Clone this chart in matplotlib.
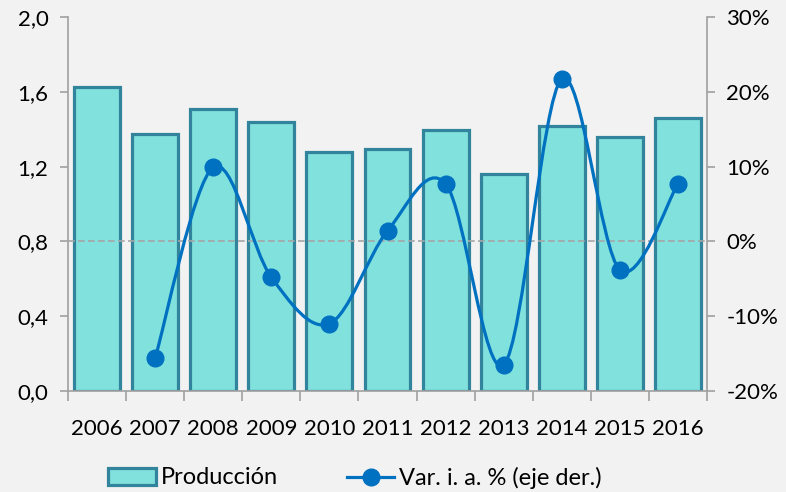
import matplotlib
matplotlib.use("Agg")
import matplotlib.pyplot as plt
from matplotlib.path import Path
from matplotlib.patches import PathPatch, Patch
from matplotlib.lines import Line2D
import numpy as np

years = ["2006", "2007", "2008", "2009", "2010", "2011", "2012", "2013", "2014", "2015", "2016"]
produccion = [1.626, 1.374, 1.508, 1.439, 1.278, 1.294, 1.396, 1.160, 1.417, 1.358, 1.460]
var_ia = [None, -15.6, 9.9, -4.8, -11.0, 1.4, 7.7, -16.5, 21.7, -3.8, 7.7]
left_ticks = [0.0, 0.4, 0.8, 1.2, 1.6, 2.0]
left_labels = ["0,0", "0,4", "0,8", "1,2", "1,6", "2,0"]
right_ticks = [-20, -10, 0, 10, 20, 30]
right_labels = ["-20%", "-10%", "0%", "10%", "20%", "30%"]
title = "(en millones de toneladas de producto)"

plt.rcParams['font.family'] = ['Lato', 'DejaVu Sans']
FS = 16
LFS = 17

W, H = 786, 492
fig = plt.figure(figsize=(W / 100, H / 100), dpi=100)
fig.patch.set_facecolor("#F2F2F2")
ax = fig.add_axes([68 / W, (H - 391) / H, (707 - 68) / W, (391 - 17) / H])
ax.set_facecolor("#F2F2F2")

x = np.arange(len(years))
ax.bar(x, produccion, width=0.79, color="#80E1DD", edgecolor="#31849B", linewidth=2.3, zorder=2)
ax.set_xlim(-0.5, len(years) - 0.5)
ax.set_ylim(0, 2.0)
ax.set_yticks(left_ticks)
ax.set_yticklabels(left_labels, fontsize=FS)
ax.set_xticks(x)
ax.set_xticklabels(years, fontsize=FS)
ax.tick_params(axis="x", length=0, pad=20)
ax.set_xticks(np.arange(-0.5, len(years)), minor=True)
ax.tick_params(axis="x", which="minor", length=7, color="#A0A0A0", width=1.2)
ax.tick_params(axis="y", length=6, color="#A0A0A0", width=1.2, pad=8)
for s in ["top", "right"]:
    ax.spines[s].set_visible(False)
for s in ["left", "bottom"]:
    ax.spines[s].set_color("#A0A0A0")
    ax.spines[s].set_linewidth(1.2)

ax2 = ax.twinx()
ax2.set_ylim(-20, 30)
ax2.set_yticks(right_ticks)
ax2.set_yticklabels(right_labels, fontsize=FS)
ax2.tick_params(axis="y", length=6, color="#A0A0A0", width=1.2, pad=8)
for s in ["top", "left", "bottom"]:
    ax2.spines[s].set_visible(False)
ax2.spines["right"].set_color("#A0A0A0")
ax2.spines["right"].set_linewidth(1.2)
ax2.axhline(0, color="#A6A6A6", linestyle=(0, (4, 2)), linewidth=1.2, zorder=1)

# smoothed line (Bezier, Catmull-Rom control points)
px = [xi for xi, v in zip(x, var_ia) if v is not None]
py = [v for v in var_ia if v is not None]
n = len(px)
verts = [(px[0], py[0])]
codes = [Path.MOVETO]
for i in range(n - 1):
    p0 = (px[max(i - 1, 0)], py[max(i - 1, 0)])
    p1 = (px[i], py[i])
    p2 = (px[i + 1], py[i + 1])
    p3 = (px[min(i + 2, n - 1)], py[min(i + 2, n - 1)])
    c1 = (p1[0] + (p2[0] - p0[0]) / 6, p1[1] + (p2[1] - p0[1]) / 6)
    c2 = (p2[0] - (p3[0] - p1[0]) / 6, p2[1] - (p3[1] - p1[1]) / 6)
    verts += [c1, c2, p2]
    codes += [Path.CURVE4] * 3
ax2.add_patch(PathPatch(Path(verts, codes), facecolor="none", edgecolor="#0070C0", linewidth=2.3, zorder=3))
ax2.plot(px, py, linestyle="none", marker="o", markersize=12, color="#0070C0", zorder=4)

fig.text(0.5, 1.0 + 9 / H, title, ha="center", va="bottom", fontsize=18, fontweight="bold")

leg_y = (H - 478) / H
leg1 = fig.legend([Patch(facecolor="#80E1DD", edgecolor="#31849B", linewidth=2.3)], ["Producción"],
                  loc="center left", bbox_to_anchor=(108 / W, leg_y), frameon=False,
                  fontsize=LFS, handlelength=2.05, handleheight=0.72, handletextpad=0.2,
                  borderpad=0, borderaxespad=0)
leg2 = fig.legend([Line2D([0], [0], color="#0070C0", linewidth=2.3, marker="o", markersize=12)],
                  ["Var. i. a. % (eje der.)"],
                  loc="center left", bbox_to_anchor=(347 / W, leg_y), frameon=False,
                  fontsize=LFS, handlelength=2.0, handletextpad=0.2,
                  borderpad=0, borderaxespad=0)

fig.savefig("out.png", dpi=100, facecolor=fig.get_facecolor())
